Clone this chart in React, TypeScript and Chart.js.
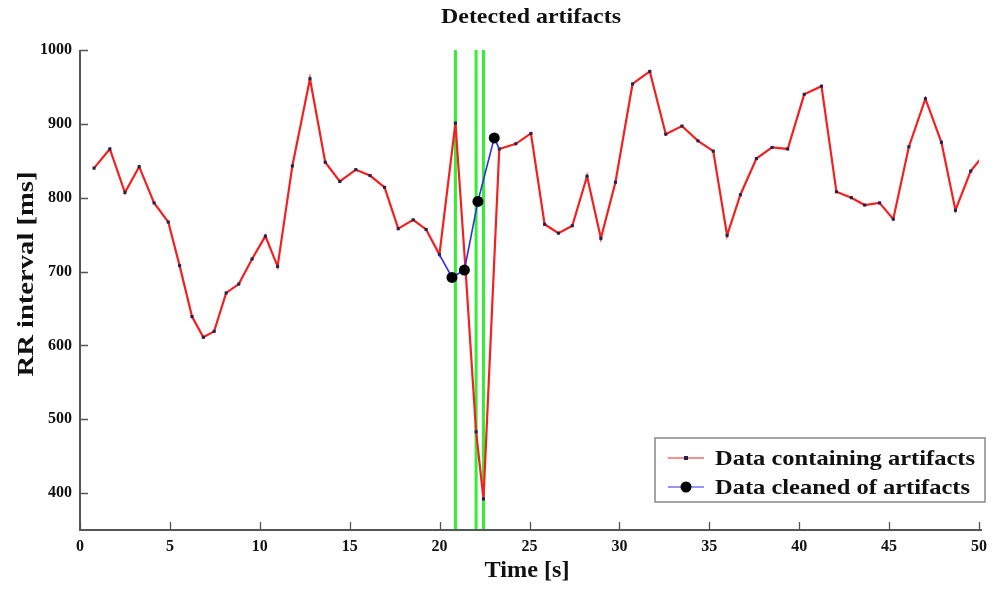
import React, { useEffect, useRef } from "react";
import { Chart, registerables } from "chart.js";

Chart.register(...registerables);

// ---- data ----
const rawTimes = [
  0.78, 1.66, 2.5, 3.29, 4.12, 4.91, 5.54, 6.23, 6.86, 7.46, 8.13, 8.83, 9.57, 10.31, 10.99,
  11.81, 12.79, 13.64, 14.45, 15.34, 16.13, 16.94, 17.7, 18.53, 19.25, 19.99, 20.88, 21.45,
  22.03, 22.44, 23.32, 24.24, 25.08, 25.84, 26.61, 27.38, 28.2, 28.97, 29.78, 30.73, 31.69,
  32.58, 33.48, 34.37, 35.22, 35.99, 36.73, 37.62, 38.49, 39.36, 40.28, 41.24, 42.07, 42.9,
  43.64, 44.47, 45.23, 46.1, 47.02, 47.91, 48.69, 49.54, 50.4,
];
const rawValues = [
  840, 866, 807, 842, 793, 767, 708, 639, 611, 619, 671, 683, 717, 748, 707,
  843, 961, 848, 822, 838, 830, 814, 758, 770, 757, 723, 901, 700,
  483, 392, 866, 873, 887, 764, 752, 762, 829, 745, 821, 954, 971,
  886, 897, 877, 863, 749, 804, 853, 868, 866, 940, 951, 808, 800,
  790, 793, 771, 869, 934, 875, 783, 836, 862,
];
const cleanTimes = [19.99, 20.69, 21.38, 22.13, 23.04, 23.32];
const cleanValues = [723, 692, 702, 795, 881, 866];
const cleanMarker = [0, 1, 1, 1, 1, 0];
const artifactTimes = [20.88, 22.03, 22.44];
const xTicks = [0, 5, 10, 15, 20, 25, 30, 35, 40, 45, 50];
const yTicks = [400, 500, 600, 700, 800, 900, 1000];
const X_MIN = 0;
const X_MAX = 50;
const Y_MIN = 350;
const Y_MAX = 1000;
const titleText = "Detected artifacts";
const xTitle = "Time [s]";
const yTitle = "RR interval [ms]";
const legendLabels = ["Data containing artifacts", "Data cleaned of artifacts"];

const FONT = "'Liberation Serif', 'Times New Roman', serif";
const RED = "#f42020";
const BLUE = "#2b2bf0";
const GREEN = "#33ee33";
const MARK = "#22224f";

// draw text stretched along its direction to a target length
function fitText(ctx: any, text: string, x: number, y: number, target: number, size: number, align: string) {
  ctx.font = `bold ${size}px ${FONT}`;
  const w = ctx.measureText(text).width;
  const k = target / w;
  ctx.save();
  ctx.translate(x, y);
  ctx.scale(k, 1);
  ctx.textAlign = align;
  ctx.fillText(text, 0, 0);
  ctx.restore();
}

const decor = {
  id: "decor",
  afterDraw(chart: any) {
    const { ctx, chartArea: ca } = chart;
    const x = chart.scales.x;
    const y = chart.scales.y;
    ctx.save();
    // axes
    ctx.strokeStyle = "#555";
    ctx.lineWidth = 2;
    ctx.beginPath();
    ctx.moveTo(ca.left, ca.top);
    ctx.lineTo(ca.left, ca.bottom);
    ctx.lineTo(ca.right + 3, ca.bottom);
    ctx.stroke();
    // inner ticks
    ctx.lineWidth = 1.3;
    ctx.beginPath();
    yTicks.forEach((v) => {
      const py = Math.round(y.getPixelForValue(v)) + 0.5;
      ctx.moveTo(ca.left, py);
      ctx.lineTo(ca.left + 8, py);
    });
    xTicks.forEach((v) => {
      const px = Math.round(x.getPixelForValue(v)) + 0.5;
      ctx.moveTo(px, ca.bottom);
      ctx.lineTo(px, ca.bottom - 8);
    });
    ctx.stroke();

    // titles
    ctx.fillStyle = "#111";
    ctx.textBaseline = "middle";
    fitText(ctx, titleText, 531, 18, 180, 21, "center");
    fitText(ctx, xTitle, 527, 571, 85, 24, "center");
    ctx.save();
    ctx.translate(27, 274);
    ctx.rotate(-Math.PI / 2);
    fitText(ctx, yTitle, 0, 0, 205, 24, "center");
    ctx.restore();

    // legend
    const lx = 655, ly = 438, lw = 330, lh = 64;
    ctx.fillStyle = "#fff";
    ctx.fillRect(lx, ly, lw, lh);
    ctx.strokeStyle = "#888";
    ctx.lineWidth = 1.5;
    ctx.strokeRect(lx, ly, lw, lh);
    const rows = [ly + 20, ly + 49];
    ctx.strokeStyle = RED;
    ctx.lineWidth = 1;
    ctx.beginPath();
    ctx.moveTo(668, rows[0]);
    ctx.lineTo(704, rows[0]);
    ctx.stroke();
    ctx.fillStyle = MARK;
    ctx.fillRect(684, rows[0] - 2, 4, 4);
    ctx.strokeStyle = BLUE;
    ctx.beginPath();
    ctx.moveTo(668, rows[1]);
    ctx.lineTo(704, rows[1]);
    ctx.stroke();
    ctx.fillStyle = "#000";
    ctx.beginPath();
    ctx.arc(686, rows[1], 5.5, 0, Math.PI * 2);
    ctx.fill();
    ctx.fillStyle = "#111";
    fitText(ctx, legendLabels[0], 715, rows[0] + 1, 260, 22, "left");
    fitText(ctx, legendLabels[1], 715, rows[1] + 1, 255, 22, "left");
    ctx.restore();
  },
};

export default function App() {
  const ref = useRef<HTMLCanvasElement | null>(null);
  useEffect(() => {
    document.body.style.margin = "0";
    const canvas = ref.current;
    if (!canvas) return;
    const greenSets = artifactTimes.map((t) => ({
      type: "line" as const,
      label: "artifact",
      data: [
        { x: t, y: Y_MIN },
        { x: t, y: Y_MAX },
      ],
      borderColor: GREEN,
      borderWidth: 3,
      pointRadius: 0,
      order: 3,
    }));
    const chart = new Chart(canvas, {
      type: "line",
      data: {
        datasets: [
          {
            label: legendLabels[0],
            data: rawTimes.map((t, i) => ({ x: t, y: rawValues[i] })),
            borderColor: RED,
            borderWidth: 2.2,
            pointStyle: "rect",
            pointRadius: 2.2,
            pointBackgroundColor: MARK,
            pointBorderColor: MARK,
            pointBorderWidth: 0,
            tension: 0,
            order: 2,
          },
          {
            label: legendLabels[1],
            data: cleanTimes.map((t, i) => ({ x: t, y: cleanValues[i] })),
            borderColor: BLUE,
            borderWidth: 1.6,
            pointRadius: cleanMarker.map((m) => (m ? 5.5 : 0)),
            pointBackgroundColor: "#000",
            pointBorderColor: "#000",
            pointBorderWidth: 0,
            tension: 0,
            order: 1,
          },
          ...greenSets,
        ],
      },
      options: {
        responsive: false,
        animation: false,
        events: [],
        layout: { padding: { left: 0, right: 12, top: 50, bottom: 0 } },
        plugins: {
          legend: { display: false },
          title: { display: false },
          tooltip: { enabled: false },
        },
        scales: {
          x: {
            type: "linear",
            min: X_MIN,
            max: X_MAX,
            afterBuildTicks: (s: any) => {
              s.ticks = xTicks.map((v) => ({ value: v }));
            },
            afterFit: (s: any) => {
              s.height = 60;
            },
            grid: { display: false, drawTicks: false },
            border: { display: false },
            ticks: {
              padding: 7,
              color: "#111",
              font: { family: FONT, size: 16, weight: "bold" },
              maxRotation: 0,
              callback: (v: any) => String(v),
            },
          },
          y: {
            type: "linear",
            min: Y_MIN,
            max: Y_MAX,
            afterBuildTicks: (s: any) => {
              s.ticks = yTicks.map((v) => ({ value: v }));
            },
            afterFit: (s: any) => {
              s.width = 80;
            },
            grid: { display: false, drawTicks: false },
            border: { display: false },
            ticks: {
              padding: 8,
              color: "#111",
              font: { family: FONT, size: 16, weight: "bold" },
              callback: (v: any) => String(v),
            },
          },
        },
      },
      plugins: [decor],
    });
    return () => chart.destroy();
  }, []);
  return (
    <div style={{ width: 994, height: 590, background: "#fff" }}>
      <canvas ref={ref} width={994} height={590} style={{ display: "block" }} />
    </div>
  );
}
